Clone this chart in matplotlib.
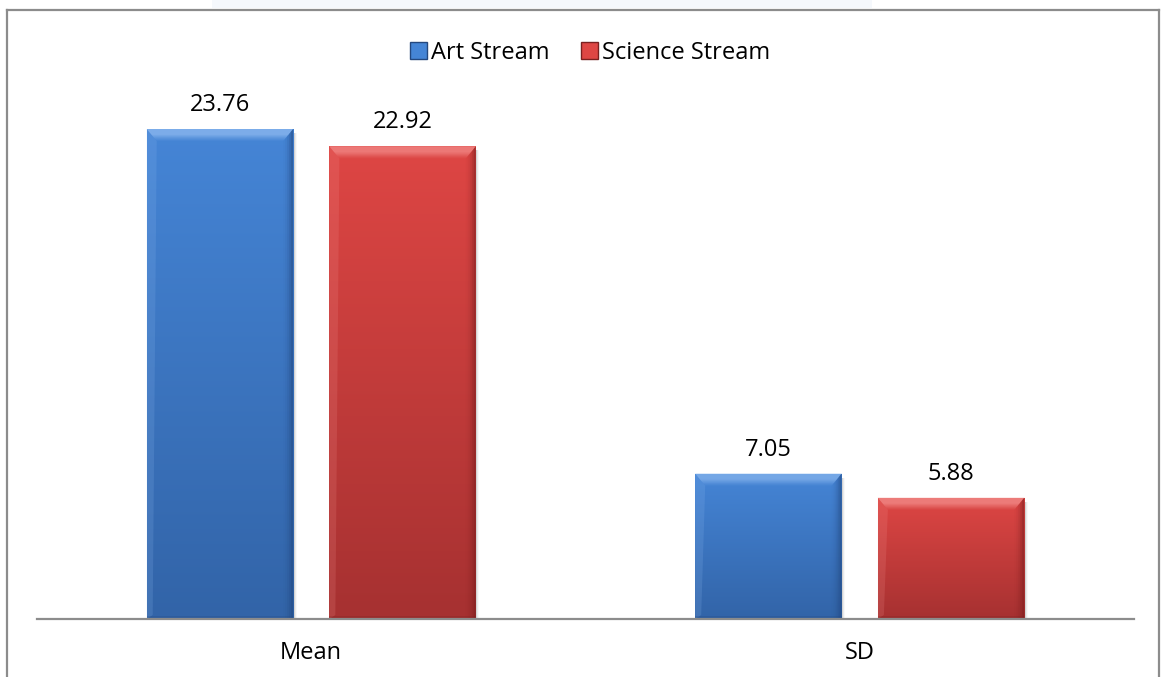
import numpy as np
import matplotlib

matplotlib.use("Agg")
import matplotlib.pyplot as plt
from matplotlib.patches import Patch, Polygon, Rectangle
from matplotlib.lines import Line2D
from matplotlib.colors import LinearSegmentedColormap

plt.rcParams["font.family"] = ["Open Sans", "DejaVu Sans"]

categories = ["Mean", "SD"]
series_names = ["Art Stream", "Science Stream"]
art_values = [23.76, 7.05]
science_values = [22.92, 5.88]

# (top, bottom, light bevel, dark bevel)
palettes = [
    ("#4585d6", "#3264a8", "#8fbaf0", "#24487f"),
    ("#de4644", "#a63131", "#f59593", "#7a2020"),
]

W, H, DPI = 11.62, 6.77, 100
fig = plt.figure(figsize=(W, H), dpi=DPI)

px_per_unit = 20.62
ymax = 28.0
ax_left, ax_right, ax_base = 37, 1134, 619
ax_h = ymax * px_per_unit
ax = fig.add_axes([ax_left / 1162, (677 - ax_base) / 677,
                   (ax_right - ax_left) / 1162, ax_h / 677])

x = np.arange(len(categories))
bar_w = 0.267
offset = 0.1665
ax.set_xlim(-0.5, len(categories) - 0.5)
ax.set_ylim(0, ymax)

# data units per pixel
dx = 1.0 / ((ax_right - ax_left) / len(categories))
dy = 1.0 / px_per_unit


def bevel_bar(xc, h, pal):
    top, bot, light, dark = pal
    x0, x1 = xc - bar_w / 2, xc + bar_w / 2
    # soft shadow on the right
    for i, a in enumerate([0.16, 0.09, 0.04]):
        ax.add_patch(Rectangle((x1, 0), dx * (i + 1.5), h - dy * 4,
                               facecolor="#606060", alpha=a, lw=0, zorder=1))
    base = Rectangle((x0, 0), bar_w, h, facecolor=top, lw=0, zorder=2)
    ax.add_patch(base)
    cmap = LinearSegmentedColormap.from_list("g", [bot, top])
    grad = np.linspace(0, 1, 256).reshape(-1, 1)
    im = ax.imshow(grad, cmap=cmap, origin="lower", aspect="auto",
                   extent=(x0, x1, 0, h), zorder=2)
    im.set_clip_path(base)
    # top bevel built from stacked strips that fade downward
    n = 12
    for i in range(n):
        t0, t1 = i / n, (i + 1) / n
        a = 0.8 if t0 < 0.4 else 0.8 * (1 - (t0 - 0.4) / 0.6) ** 1.2
        ax.add_patch(Polygon([(x0 + t0 * 10 * dx, h - t0 * 12 * dy),
                              (x1 - t0 * 10 * dx, h - t0 * 12 * dy),
                              (x1 - t1 * 10 * dx, h - t1 * 12 * dy),
                              (x0 + t1 * 10 * dx, h - t1 * 12 * dy)],
                             closed=True, facecolor=light, lw=0, alpha=a, zorder=3))
    ax.add_patch(Polygon([(x0, 0), (x0, h), (x0 + 10 * dx, h - 12 * dy), (x0 + 6 * dx, 4 * dy)],
                         closed=True, facecolor=light, lw=0, alpha=0.18, zorder=3))
    for i, a in enumerate([0.7, 0.45, 0.28, 0.15, 0.07]):
        w = (i + 1) * 2 * dx
        ax.add_patch(Polygon([(x1, 0), (x1, h), (x1 - w, h - w / dx * 1.2 * dy), (x1 - w, 0)],
                             closed=True, facecolor=dark, lw=0, alpha=a / 2.2, zorder=3))
    ax.add_patch(Rectangle((x0, 0), bar_w, 3 * dy, facecolor=dark, lw=0, alpha=0.25, zorder=3))
    ax.annotate(f"{h:.2f}", (xc, h), xytext=(0, 13), textcoords="offset points",
                ha="center", va="baseline", fontsize=17, color="#000000")


for xc, v in zip(x - offset, art_values):
    bevel_bar(xc, v, palettes[0])
for xc, v in zip(x + offset, science_values):
    bevel_bar(xc, v, palettes[1])

for side in ["top", "left", "right"]:
    ax.spines[side].set_visible(False)
ax.spines["bottom"].set_color("#8c8c8c")
ax.spines["bottom"].set_linewidth(1.6)
ax.spines["bottom"].set_zorder(5)
ax.set_yticks([])
ax.set_xticks(x)
ax.set_xticklabels(categories, fontsize=17)
ax.tick_params(axis="x", length=0, pad=16)

handles = [Patch(facecolor=palettes[0][0], edgecolor=palettes[0][3], label=series_names[0]),
           Patch(facecolor=palettes[1][0], edgecolor=palettes[1][3], label=series_names[1])]
fig.legend(handles=handles, loc="center", bbox_to_anchor=(590 / 1162, 1 - 53 / 677),
           ncol=2, frameon=False, fontsize=17, handlelength=0.72, handleheight=0.72,
           handletextpad=0.18, columnspacing=1.3)

# outer chart border (left, top, right)
border = dict(color="#8c8c8c", lw=1.6, transform=fig.transFigure)
fig.add_artist(Line2D([7 / 1162, 7 / 1162], [0, 1 - 10 / 677], **border))
fig.add_artist(Line2D([7 / 1162, 1159 / 1162], [1 - 10 / 677, 1 - 10 / 677], **border))
fig.add_artist(Line2D([1159 / 1162, 1159 / 1162], [0, 1 - 10 / 677], **border))
# faint strip above the border
fig.add_artist(Rectangle((212 / 1162, 1 - 8 / 677), 660 / 1162, 8 / 677,
                         transform=fig.transFigure, facecolor="#f5f8fc", lw=0))

fig.savefig("out.png", dpi=DPI)
plt.close(fig)
